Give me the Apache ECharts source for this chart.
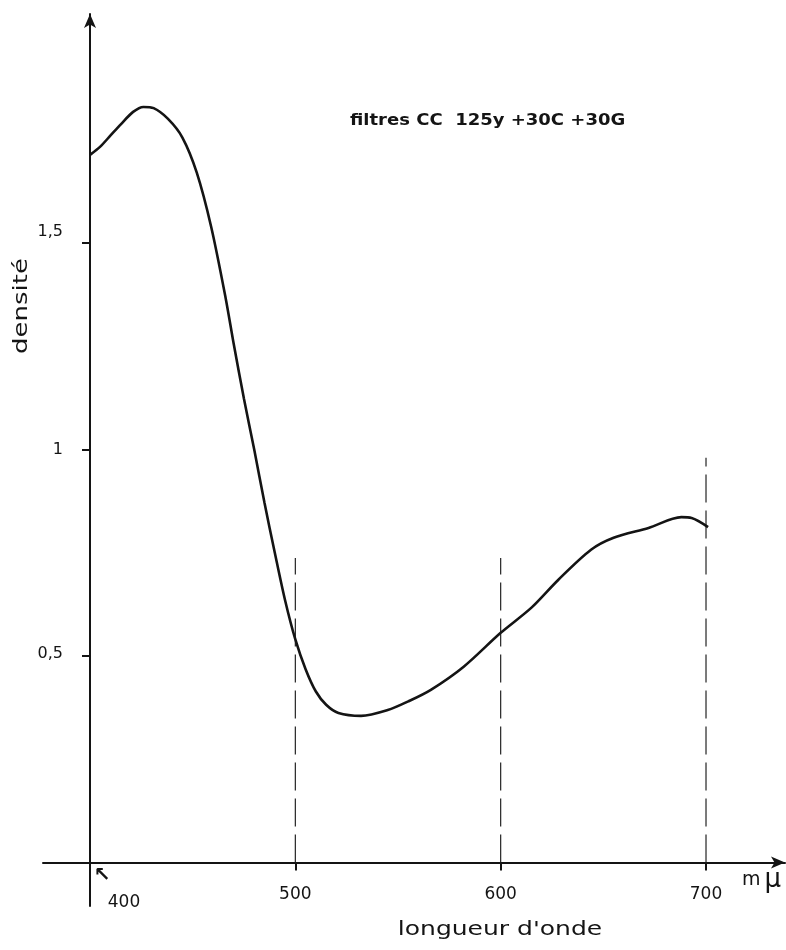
<!doctype html>
<html>
<head>
<meta charset="utf-8">
<title>densité</title>
<script src="https://cdn.jsdelivr.net/npm/echarts@6/dist/echarts.min.js"></script>
<style>
  html, body { margin: 0; padding: 0; background: #fff; }
  #chart { width: 786px; height: 950px; }
</style>
</head>
<body>
<div id="chart"></div>
<script>
// longueur d'onde (mμ) et densité
var wavelengths = [400, 405, 410, 415, 421, 426, 431, 438, 445, 452, 459, 466, 470, 475, 480, 485, 490, 495, 500, 505, 510, 515, 521, 532, 545, 555, 566, 582, 600, 615, 628, 644, 655, 672, 688, 693, 701];
var densities   = [1.713, 1.733, 1.760, 1.787, 1.817, 1.829, 1.826, 1.800, 1.755, 1.670, 1.539, 1.368, 1.255, 1.122, 0.999, 0.870, 0.750, 0.635, 0.540, 0.468, 0.414, 0.382, 0.362, 0.355, 0.369, 0.390, 0.418, 0.474, 0.556, 0.617, 0.684, 0.757, 0.786, 0.810, 0.836, 0.834, 0.812];

var xTicks = [400, 500, 600, 700];
var yTicks = [0.5, 1, 1.5];

// repères verticaux en tirets
var dashX   = [500, 600, 700];
var dashTop = [0.737, 0.737, 0.98];

var ink = '#141414';
var font = 'DejaVu Sans';

var curve = [];
for (var i = 0; i < wavelengths.length; i++) {
  curve.push([wavelengths[i], densities[i]]);
}

var series = [{
  type: 'line',
  data: curve,
  smooth: 0.3,
  symbol: 'none',
  lineStyle: { color: ink, width: 2.6 },
  z: 3
}];

for (var j = 0; j < dashX.length; j++) {
  series.push({
    type: 'line',
    data: [[dashX[j], 0], [dashX[j], dashTop[j]]],
    symbol: 'none',
    lineStyle: { color: '#222', width: 1.2, type: [28, 8] },
    z: 2
  });
}

var chart = echarts.init(document.getElementById('chart'));
chart.setOption({
  animation: false,
  backgroundColor: '#fff',
  grid: { left: 43, right: 1, top: 14, bottom: 44 },
  xAxis: {
    type: 'value',
    min: 377.11,
    max: 738.47,
    axisLine: {
      onZero: true,
      symbol: ['none', 'arrow'],
      symbolSize: [9, 14],
      lineStyle: { color: ink, width: 2 }
    },
    axisTick: { customValues: xTicks, length: 8, lineStyle: { color: ink, width: 2 } },
    axisLabel: {
      customValues: xTicks,
      margin: -20,
      color: ink,
      fontFamily: font,
      fontSize: 17,
      formatter: function (v) {
        return v === 400 ? '{s|' + v + '}' : '{n|' + v + '}';
      },
      rich: {
        s: { fontFamily: font, fontSize: 17, color: ink, padding: [8, 0, 0, 68] },
        n: { fontFamily: font, fontSize: 17, color: ink }
      }
    },
    splitLine: { show: false }
  },
  yAxis: {
    type: 'value',
    min: -0.1053,
    max: 2.054,
    offset: -47,
    axisLine: {
      show: true,
      onZero: false,
      symbol: ['none', 'arrow'],
      symbolSize: [9, 14],
      lineStyle: { color: ink, width: 2 }
    },
    axisTick: { show: true, customValues: yTicks, length: 8, lineStyle: { color: ink, width: 2 } },
    axisLabel: {
      customValues: yTicks,
      margin: 27,
      color: ink,
      fontFamily: font,
      fontSize: 16,
      formatter: function (v) {
        if (v === 1.5) return '{a|1,5}';
        if (v === 0.5) return '{c|0,5}';
        return '{b|1}';
      },
      rich: {
        a: { fontFamily: font, fontSize: 16, color: ink, padding: [0, 0, 22, 0] },
        b: { fontFamily: font, fontSize: 16, color: ink },
        c: { fontFamily: font, fontSize: 16, color: ink, padding: [0, 0, 4, 0] }
      }
    },
    splitLine: { show: false }
  },
  graphic: [
    {
      type: 'text', x: 350, y: 121, scaleX: 1.2,
      style: { text: 'filtres CC  125y +30C +30G', fill: ink, font: 'bold 15px "DejaVu Sans"', textVerticalAlign: 'middle' }
    },
    {
      type: 'text', x: 500, y: 930, scaleX: 1.25,
      style: { text: "longueur d'onde", fill: ink, font: '20px "DejaVu Sans"', textAlign: 'center', textVerticalAlign: 'middle' }
    },
    {
      type: 'text', x: 22, y: 306, rotation: Math.PI / 2, scaleX: 1.3,
      style: { text: 'densité', fill: ink, font: '20px "DejaVu Sans"', textAlign: 'center', textVerticalAlign: 'middle' }
    },
    {
      type: 'text', x: 742, y: 880,
      style: {
        text: '{m|m}{u|μ}', textVerticalAlign: 'middle',
        rich: {
          m: { fontFamily: font, fontSize: 19, fill: ink, padding: [0, 4, 0, 0] },
          u: { fontFamily: font, fontSize: 26, fill: ink }
        }
      }
    },
    {
      type: 'text', x: 102, y: 876,
      style: { text: '↖', fill: ink, font: 'bold 20px "DejaVu Sans"', textAlign: 'center', textVerticalAlign: 'middle' }
    }
  ],
  series: series
});
</script>
</body>
</html>
